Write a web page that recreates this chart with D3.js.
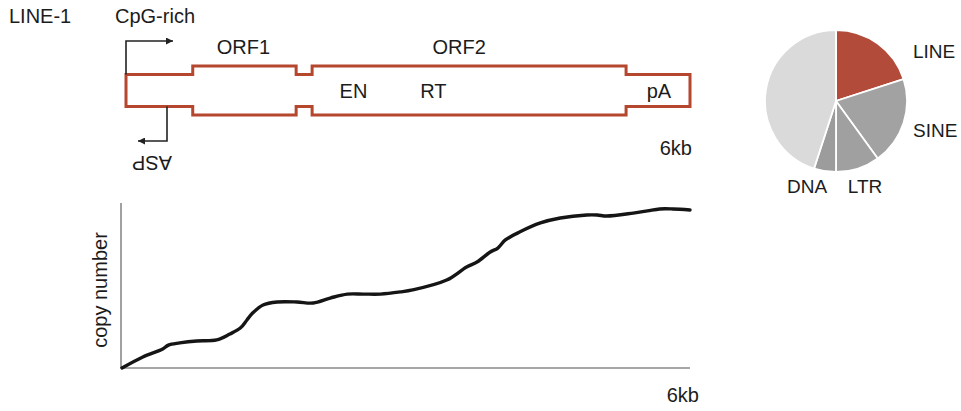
<!DOCTYPE html>
<html><head><meta charset="utf-8">
<script src="https://cdn.jsdelivr.net/npm/d3@7"></script>
<style>
html,body{margin:0;padding:0;background:#fff;}
svg text{font-family:"Liberation Sans",Arial,sans-serif;fill:#1c1c1c;}
</style></head>
<body>
<svg id="chart" width="961" height="411"></svg>
<script>
// ---- data ----
const geneLengthKb = 6;
const orf1Kb = [0.71, 1.81];
const orf2Kb = [1.98, 5.32];
const domainLabels = ["EN", "RT", "pA"];
const domainPosKb = [2.42, 3.27, 5.67];

const pieCategories = ["LINE", "SINE", "LTR", "DNA", "other"];
const pieValues = [20, 20, 10, 5, 45];
const pieColors = ["#b24b39", "#a2a2a2", "#a0a0a0", "#9c9c9c", "#d9dad9"];

const curveKb = [0, 0.22, 0.43, 0.49, 0.61, 0.79, 1.00, 1.14, 1.25, 1.32, 1.38, 1.49, 1.64, 1.85, 2.02, 2.20, 2.38, 2.55, 2.73, 2.94, 3.07, 3.43, 3.64, 3.75, 3.89, 3.97, 4.05, 4.20, 4.42, 4.63, 4.91, 5.02, 5.12, 5.40, 5.55, 5.68, 5.82, 6.00];
const curveCopies = [0, 6.7, 11.5, 13.9, 15.2, 16.4, 17.0, 20.6, 24.2, 29.1, 33.3, 38.2, 40.0, 40.0, 39.4, 42.4, 44.8, 44.8, 44.8, 46.1, 47.3, 53.3, 61.2, 64.2, 70.3, 72.7, 77.6, 82.4, 87.9, 90.9, 92.7, 92.7, 92.1, 93.9, 95.2, 96.4, 96.4, 95.8];

// ---- setup ----
const svg = d3.select("#chart");
const red = "#b5472f";

// gene diagram
const gx = d3.scaleLinear().domain([0, geneLengthKb]).range([126, 690]);
const gy = d3.scaleLinear().domain([-1, 1]).range([115, 66]); // outer
const innerH = 0.65;
const upperEdge = [
  [0, innerH], [orf1Kb[0], innerH], [orf1Kb[0], 1], [orf1Kb[1], 1], [orf1Kb[1], innerH],
  [orf2Kb[0], innerH], [orf2Kb[0], 1], [orf2Kb[1], 1], [orf2Kb[1], innerH], [geneLengthKb, innerH]
];
const outline = upperEdge.concat(upperEdge.slice().reverse().map(p => [p[0], -p[1]]));
svg.append("path")
  .attr("d", d3.line().x(d => gx(d[0])).y(d => gy(d[1]))(outline) + "Z")
  .attr("fill", "none").attr("stroke", red).attr("stroke-width", 3)
  .attr("stroke-linejoin", "miter");

// arrows
svg.append("defs").append("marker").attr("id", "ah")
  .attr("viewBox", "0 0 10 10").attr("refX", 10).attr("refY", 5)
  .attr("markerWidth", 7).attr("markerHeight", 7).attr("markerUnits", "userSpaceOnUse")
  .attr("orient", "auto")
  .append("path").attr("d", "M0,0L10,5L0,10Z").attr("fill", "#222");

const fwd = [[gx(0), gy(innerH)], [gx(0), 41], [173, 41]];
svg.append("path").attr("d", d3.line()(fwd)).attr("fill", "none")
  .attr("stroke", "#222").attr("stroke-width", 1.6).attr("marker-end", "url(#ah)");
const rev = [[167, gy(-innerH)], [167, 141], [138, 141]];
svg.append("path").attr("d", d3.line()(rev)).attr("fill", "none")
  .attr("stroke", "#222").attr("stroke-width", 1.6).attr("marker-end", "url(#ah)");

const txt = (x, y, s, anchor, size) => svg.append("text").attr("x", x).attr("y", y)
  .attr("text-anchor", anchor || "start").attr("font-size", size || 20).text(s);

txt(9, 23, "LINE-1");
txt(115, 23, "CpG-rich");
txt(gx((orf1Kb[0] + orf1Kb[1]) / 2) - 1, 54, "ORF1", "middle");
txt(gx((orf2Kb[0] + orf2Kb[1]) / 2) - 10, 54, "ORF2", "middle");
domainLabels.forEach((d, i) => txt(gx(domainPosKb[i]), 98, d, "middle"));
txt(692, 155, "6kb", "end");
svg.append("text").attr("x", 152).attr("y", 163).attr("dy", "0.35em")
  .attr("text-anchor", "middle").attr("font-size", 20)
  .attr("transform", "rotate(180,152,163)").text("ASP");

// pie
const pcx = 836, pcy = 101, pr = 71;
const pie = d3.pie().sort(null).value(d => d)(pieValues);
const arc = d3.arc().innerRadius(0).outerRadius(pr);
const pg = svg.append("g").attr("transform", `translate(${pcx},${pcy})`);
pg.selectAll("path").data(pie).join("path")
  .attr("d", arc).attr("fill", (d, i) => pieColors[i])
  .attr("stroke", "#fff").attr("stroke-width", 1.8);
const pieLabelPos = [[913, 58, "start"], [913, 137, "start"], [865, 193, "middle"], [807, 193, "middle"]];
pieLabelPos.forEach((p, i) => txt(p[0], p[1], pieCategories[i], p[2], 19));

// line chart
const x = d3.scaleLinear().domain([0, 6]).range([122, 690]);
const y = d3.scaleLinear().domain([0, 100]).range([368, 203]);
svg.append("line").attr("x1", x(0) - 1).attr("x2", x(0) - 1).attr("y1", y(100)).attr("y2", y(0))
  .attr("stroke", "#8a8a8a").attr("stroke-width", 1.6);
svg.append("line").attr("x1", x(0) - 1).attr("x2", x(6)).attr("y1", y(0)).attr("y2", y(0))
  .attr("stroke", "#8a8a8a").attr("stroke-width", 1.6);
svg.append("path")
  .attr("d", d3.line().x((d, i) => x(curveKb[i])).y(d => y(d)).curve(d3.curveCatmullRom.alpha(0.5))(curveCopies))
  .attr("fill", "none").attr("stroke", "#151515").attr("stroke-width", 3.4)
  .attr("stroke-linejoin", "round").attr("stroke-linecap", "round");
svg.append("text").attr("transform", "translate(107,290) rotate(-90)")
  .attr("text-anchor", "middle").attr("font-size", 20).text("copy number");
txt(699, 402, "6kb", "end");
</script>
</body></html>
